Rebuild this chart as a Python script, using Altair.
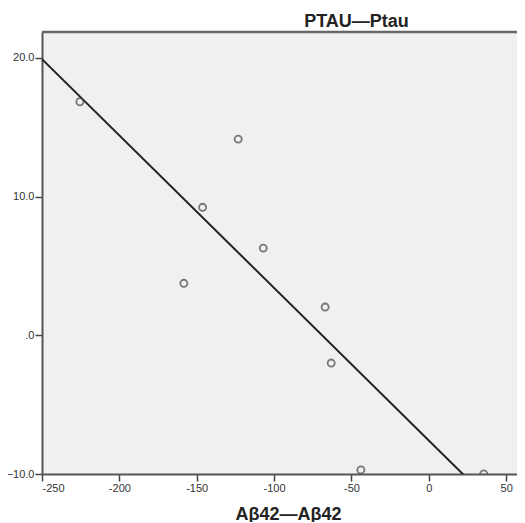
import altair as alt
import pandas as pd

# Data
abeta_diff = [-225.5, -123.2, -146.2, -107.0, -158.3, -67.0, -63.1, -43.9, 35.5]
ptau_diff = [16.84, 14.15, 9.23, 6.29, 3.75, 2.04, -2.0, -9.71, -10.0]

x_ticks = [-250, -200, -150, -100, -50, 0, 50]
y_ticks = [-10, 0, 10, 20]

df = pd.DataFrame({"x": abeta_diff, "y": ptau_diff})

X_DOMAIN = [-250, 57]
Y_DOMAIN = [-10, 21.87]
W, H = 475, 442

xscale = alt.Scale(domain=X_DOMAIN, nice=False, zero=False)
yscale = alt.Scale(domain=Y_DOMAIN, nice=False, zero=False)

axis_common = dict(
    domainColor="#555555",
    domainWidth=2,
    tickColor="#444444",
    tickWidth=1.5,
    labelColor="#333333",
    labelFont="Liberation Sans",
    labelFontSize=11,
    titleFont="Liberation Sans",
    titleFontSize=18,
    titleFontWeight="bold",
    titleColor="#222222",
    grid=False,
)

xaxis = alt.Axis(
    values=x_ticks,
    tickSize=7,
    labelPadding=1,
    labelExpr="'' + datum.value",
    title="Aβ42—Aβ42",
    titleX=246,
    titleY=45,
    titleAlign="center",
    titleBaseline="alphabetic",
    **axis_common,
)

yaxis = alt.Axis(
    values=y_ticks,
    tickSize=7,
    labelPadding=1,
    labelExpr="datum.value == 0 ? '.0' : format(datum.value, '.1f')",
    title="PTAU—Ptau",
    titleAngle=0,
    titleX=314,
    titleY=-6,
    titleAlign="center",
    titleBaseline="alphabetic",
    **axis_common,
)

base = alt.Chart(df)

points = base.mark_point(
    shape="circle", filled=False, size=50, stroke="#444444", strokeWidth=1.8, clip=True
).encode(
    x=alt.X("x:Q", scale=xscale, axis=xaxis),
    y=alt.Y("y:Q", scale=yscale, axis=yaxis),
)

fit = base.transform_regression("x", "y", extent=X_DOMAIN).mark_line(
    color="#222222", strokeWidth=2, clip=True
).encode(
    x=alt.X("x:Q", scale=xscale),
    y=alt.Y("y:Q", scale=yscale),
)

top_border = alt.Chart(pd.DataFrame({"a": [0]})).mark_rule(
    color="#666666", strokeWidth=2.5
).encode(
    x=alt.value(0), x2=alt.value(W + 10), y=alt.value(0)
)

chart = alt.layer(fit, points, top_border).properties(
    width=W,
    height=H,
    autosize=alt.AutoSizeParams(type="none"),
    padding={"left": 34, "top": 24, "right": 0, "bottom": 48},
    background="white",
).configure_view(
    fill="#f0f0f0",
    stroke=None,
)

chart.save("out.html", embed_options={"renderer": "svg", "actions": False})
